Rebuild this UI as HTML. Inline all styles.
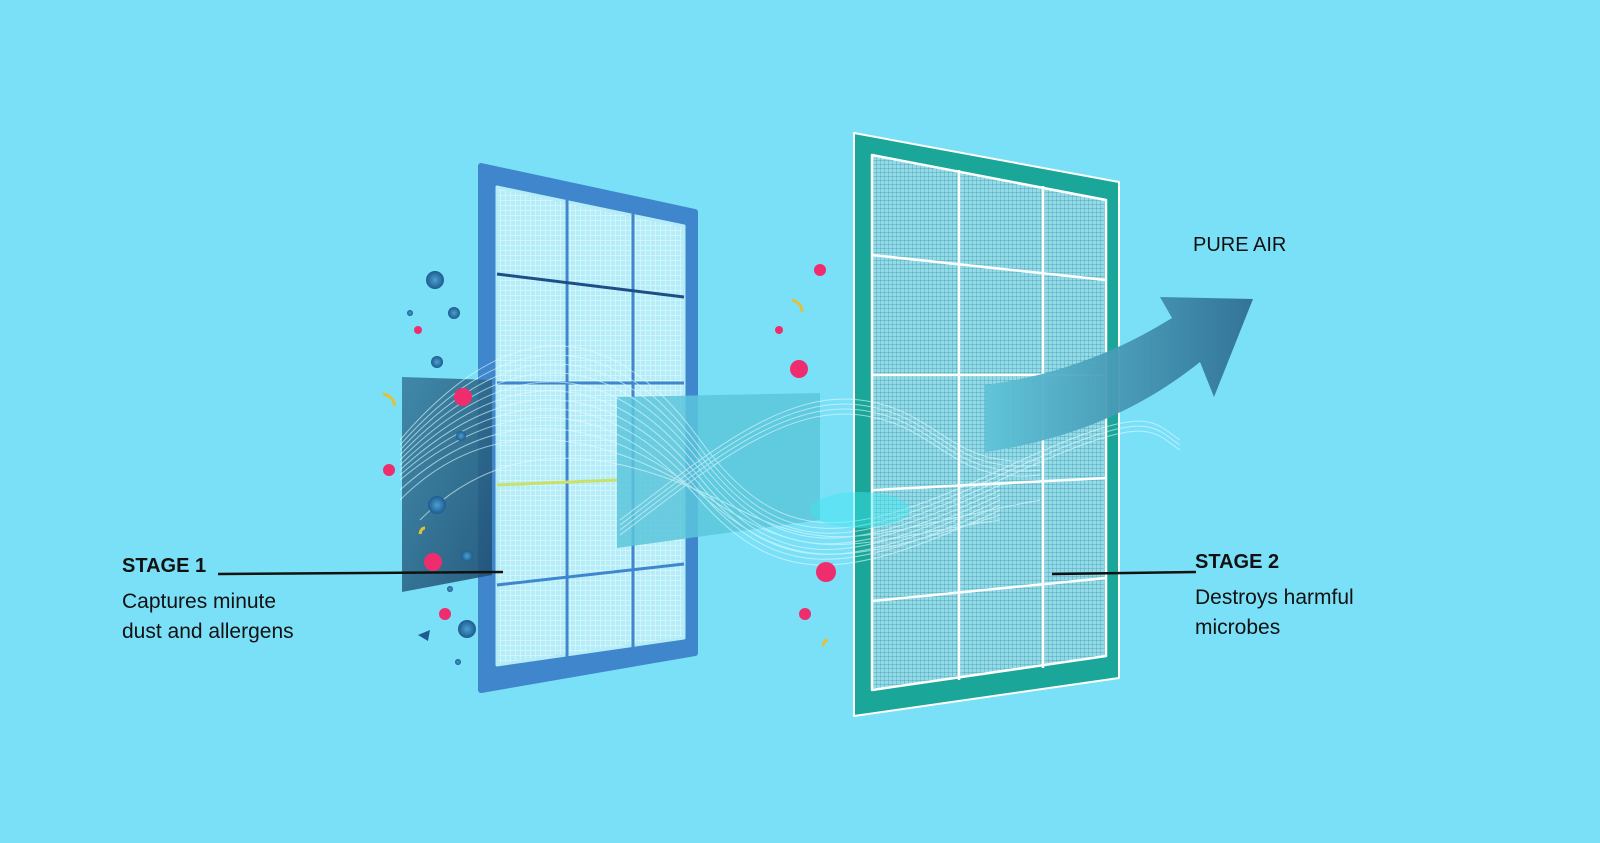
<!DOCTYPE html>
<html><head><meta charset="utf-8"><style>
html,body{margin:0;padding:0}
body{width:1600px;height:843px;background:#7ae0f7;position:relative;overflow:hidden;font-family:"Liberation Sans",sans-serif;color:#111}
.t{position:absolute;font-size:21px;line-height:30px}
.b{font-weight:bold;font-size:20px}
</style></head><body>
<svg width="1600" height="843" style="position:absolute;left:0;top:0">
<defs>
<pattern id="m1" width="5" height="5" patternUnits="userSpaceOnUse"><rect width="5" height="5" fill="#b4ecf8"/><path d="M0 0H5M0 0V5" stroke="#e8fbff" stroke-width="1"/></pattern>
<pattern id="m2" width="4" height="4" patternUnits="userSpaceOnUse"><rect width="4" height="4" fill="#94dbe9"/><path d="M0 0H4M0 0V4" stroke="#3f9aa8" stroke-width="0.7"/></pattern>
<linearGradient id="ar" x1="0" y1="0" x2="1" y2="0"><stop offset="0" stop-color="#5fc4d8"/><stop offset="1" stop-color="#2f6e93"/></linearGradient>
<linearGradient id="ds" x1="0" y1="0" x2="1" y2="1"><stop offset="0" stop-color="#3a7fa0"/><stop offset="1" stop-color="#1f4f73"/></linearGradient>
<radialGradient id="bb"><stop offset="0" stop-color="#4aa0d0"/><stop offset="1" stop-color="#1d5c8f"/></radialGradient>
</defs>
<!-- blue filter -->
<polygon points="481,166 695,212 695,653 481,690" fill="#3f86cc" stroke="#3f86cc" stroke-width="6" stroke-linejoin="round"/>
<polygon points="497,187 684,226 684,638 497,665" fill="url(#m1)" stroke="#b4ecf8" stroke-width="3" stroke-linejoin="round"/>
<line x1="567" y1="190" x2="567" y2="659" stroke="#3f86cc" stroke-width="3"/>
<line x1="633" y1="207" x2="633" y2="650" stroke="#3f86cc" stroke-width="3"/>
<line x1="497" y1="274" x2="684" y2="297" stroke="#1d4f86" stroke-width="3"/>
<line x1="497" y1="383" x2="684" y2="383" stroke="#3f86cc" stroke-width="3"/>
<line x1="497" y1="485" x2="617" y2="480" stroke="#c9e06a" stroke-width="3"/>
<line x1="497" y1="585" x2="684" y2="564" stroke="#3f86cc" stroke-width="3"/>
<!-- dark sheet left -->
<path d="M402,377 L492,380 L492,575 L402,592 Z" fill="url(#ds)" opacity="0.9"/>
<!-- teal filter -->
<polygon points="854,133 1119,182 1119,678 854,716" fill="#1aa79a" stroke="#fff" stroke-width="2" stroke-linejoin="round"/>
<polygon points="872,155 1106,200 1106,656 872,690" fill="url(#m2)" stroke="#fff" stroke-width="2.5" stroke-linejoin="round"/>
<line x1="959" y1="170" x2="959" y2="680" stroke="#fff" stroke-width="2.5"/>
<line x1="1043" y1="186" x2="1043" y2="668" stroke="#fff" stroke-width="2.5"/>
<line x1="872" y1="255" x2="1106" y2="280" stroke="#fff" stroke-width="2.5"/>
<line x1="872" y1="375" x2="1106" y2="375" stroke="#fff" stroke-width="2.5"/>
<line x1="872" y1="490" x2="1106" y2="478" stroke="#fff" stroke-width="2.5"/>
<line x1="872" y1="601" x2="1106" y2="578" stroke="#fff" stroke-width="2.5"/>
<!-- middle translucent sheet -->
<polygon points="617,397 820,393 820,520 617,548" fill="#5cc6da" opacity="0.85"/>
<!-- waves -->
<g fill="none" stroke="#e6fcff" stroke-width="1" opacity="0.6">
<path d="M400,440 C520,300 620,330 700,440 S850,540 1000,470 S1150,420 1180,440"/>
<path d="M400,445 C520,310 620,340 700,448 S850,545 1000,475 S1150,425 1180,445"/>
<path d="M400,450 C520,320 620,350 700,455 S850,550 1000,480 S1150,430 1180,450"/>
<path d="M400,455 C520,330 620,360 700,462 S850,555 1000,485"/>
<path d="M400,460 C520,340 620,370 700,470 S850,560 1000,490"/>
<path d="M400,465 C520,350 620,380 700,478 S850,565 1000,495"/>
<path d="M400,470 C520,360 620,390 700,485 S850,570 1000,500"/>
<path d="M400,475 C520,370 620,400 700,492 S850,575 1000,505"/>
<path d="M400,480 C520,380 620,410 700,500 S850,580 1000,510"/>
<path d="M400,490 C510,390 620,425 710,502 S855,560 1000,515"/>
<path d="M400,500 C500,400 620,440 720,505 S860,540 1000,520"/>
<path d="M420,520 C520,420 640,460 740,510 S880,530 1040,500"/>
<path d="M620,520 C700,460 780,390 860,400 S950,470 1040,460"/>
<path d="M620,525 C700,465 780,395 860,405 S950,475 1040,465"/>
<path d="M620,530 C700,470 780,400 860,410 S950,480 1040,470"/>
<path d="M620,535 C700,475 780,405 860,415 S950,485 1040,475"/>
</g>
<ellipse cx="860" cy="510" rx="50" ry="18" fill="#3ee6f0" opacity="0.45"/>
<!-- arrow -->
<path d="M985,385 C1060,375 1120,350 1172,318 L1160,297 L1253,299 L1214,397 L1200,362 C1140,410 1070,440 985,452 Z" fill="url(#ar)" opacity="0.95"/>
<!-- particles -->
<g fill="#ef2d6e">
<circle cx="463" cy="397" r="9"/><circle cx="389" cy="470" r="6"/><circle cx="433" cy="562" r="9"/><circle cx="445" cy="614" r="6"/>
<circle cx="820" cy="270" r="6"/><circle cx="779" cy="330" r="4"/><circle cx="799" cy="369" r="9"/><circle cx="826" cy="572" r="10"/><circle cx="805" cy="614" r="6"/><circle cx="418" cy="330" r="4"/>
</g>
<g fill="url(#bb)">
<circle cx="435" cy="280" r="9"/><circle cx="454" cy="313" r="6"/><circle cx="437" cy="362" r="6"/><circle cx="410" cy="313" r="3"/>
<circle cx="437" cy="505" r="9"/><circle cx="467" cy="556" r="6"/><circle cx="467" cy="629" r="9"/><circle cx="458" cy="662" r="3"/><circle cx="450" cy="589" r="3"/><circle cx="461" cy="436" r="5"/>
</g>
<polygon points="418,635 430,630 428,641" fill="#1d5c8f"/>
<g stroke="#e0c23a" stroke-width="3" fill="none">
<path d="M383,394 q10,2 12,12"/><path d="M792,300 q10,3 10,12"/><path d="M828,640 q-4,0 -5,6"/><path d="M425,528 q-4,0 -5,6"/>
</g>
<!-- leader lines -->
<line x1="218" y1="574" x2="503" y2="572" stroke="#111" stroke-width="2.5"/>
<line x1="1052" y1="574" x2="1196" y2="572" stroke="#111" stroke-width="2.5"/>
</svg>
<div class="t b" style="left:122px;top:551px">STAGE 1</div>
<div class="t" style="left:122px;top:587px">Captures minute<br>dust and allergens</div>
<div class="t b" style="left:1195px;top:547px">STAGE 2</div>
<div class="t" style="left:1195px;top:583px">Destroys harmful<br>microbes</div>
<div class="t" style="left:1193px;top:230px;font-size:20px">PURE AIR</div>
</body></html>
